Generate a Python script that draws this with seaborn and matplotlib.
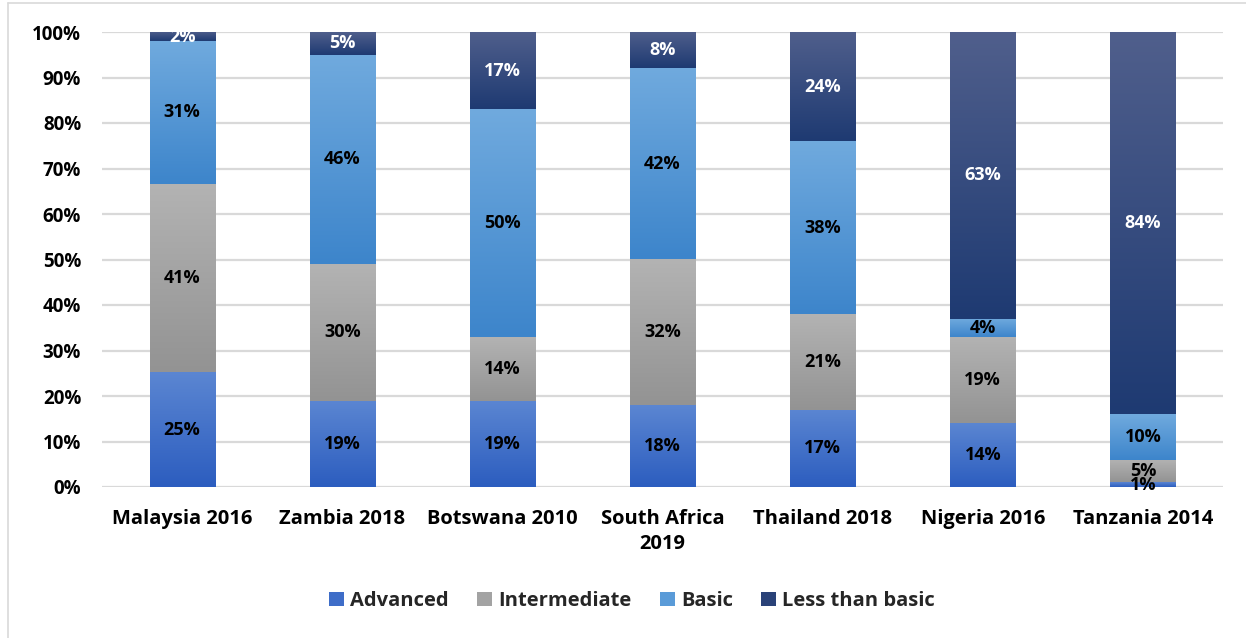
import numpy as np
import pandas as pd
import matplotlib
matplotlib.use("Agg")
import matplotlib.pyplot as plt
from matplotlib.colors import LinearSegmentedColormap
from matplotlib.patches import Patch
from matplotlib.lines import Line2D
import seaborn as sns

# Skill level shares by country survey (percent)
countries = ["Malaysia 2016", "Zambia 2018", "Botswana 2010", "South Africa\n2019",
             "Thailand 2018", "Nigeria 2016", "Tanzania 2014"]
levels = ["Advanced", "Intermediate", "Basic", "Less than basic"]
advanced = [25, 19, 19, 18, 17, 14, 1]
intermediate = [41, 30, 14, 32, 21, 19, 5]
basic = [31, 46, 50, 42, 38, 4, 10]
less_than_basic = [2, 5, 17, 8, 24, 63, 84]

# Segment gradients (top colour, bottom colour) and legend swatch colours
grad_colors = {
    "Advanced": ("#5b86d2", "#2c5dbf"),
    "Intermediate": ("#b3b3b3", "#939393"),
    "Basic": ("#70aade", "#3d85cb"),
    "Less than basic": ("#505f8c", "#1e3a72"),
}
swatch = {"Advanced": "#3e6dc8", "Intermediate": "#a3a3a3",
          "Basic": "#5a9bd8", "Less than basic": "#2a4278"}
label_color = {"Advanced": "black", "Intermediate": "black",
               "Basic": "black", "Less than basic": "white"}

sns.set_theme(style="white")
plt.rcParams["font.family"] = ["Open Sans", "DejaVu Sans"]
plt.rcParams["font.weight"] = "bold"

values = pd.DataFrame({"Advanced": advanced, "Intermediate": intermediate,
                       "Basic": basic, "Less than basic": less_than_basic},
                      index=countries)
shares = values.div(values.sum(axis=1), axis=0) * 100
cum = shares.cumsum(axis=1)

fig = plt.figure(figsize=(12.46, 6.38), dpi=100)
ax = fig.add_axes([102 / 1246, 1 - 487 / 638, (1223 - 102) / 1246, (487 - 32) / 638])

# Draw cumulative bars from the top layer down so each layer shows its own segment
patches_by_level = {}
for lvl in reversed(levels):
    df = pd.DataFrame({"country": countries, "top": cum[lvl].values})
    n_before = len(ax.patches)
    sns.barplot(data=df, x="country", y="top", order=countries, color=swatch[lvl],
                width=0.406, ax=ax, zorder=2, linewidth=0)
    patches_by_level[lvl] = ax.patches[n_before:]

ax.set_xlim(-0.5, len(countries) - 0.5)
ax.set_ylim(0, 100)

# Replace flat fills with vertical gradients per segment
for i, lvl in enumerate(levels):
    top_c, bot_c = grad_colors[lvl]
    cmap = LinearSegmentedColormap.from_list(lvl, [bot_c, top_c])
    grad = np.linspace(0, 1, 256).reshape(-1, 1)
    for j, p in enumerate(patches_by_level[lvl]):
        p.set_facecolor("none")
        x0, w = p.get_x(), p.get_width()
        top = p.get_height()
        bottom = cum[levels[i - 1]].iloc[j] if i > 0 else 0.0
        ax.imshow(grad, cmap=cmap, origin="lower", aspect="auto",
                  extent=[x0, x0 + w, bottom, top], zorder=3, interpolation="bicubic")
        ax.text(x0 + w / 2, (bottom + top) / 2, f"{values[lvl].iloc[j]}%",
                ha="center", va="center", fontsize=13, fontweight="bold",
                color=label_color[lvl], zorder=5)

ax.set_xlim(-0.5, len(countries) - 0.5)
ax.set_ylim(0, 100)

# Axes styling
ax.set_yticks(np.arange(0, 101, 10))
ax.set_yticklabels([f"{t}%" for t in range(0, 101, 10)])
ax.yaxis.grid(True, color="#d9d9d9", linewidth=1.6, zorder=0)
ax.set_axisbelow(True)
for s in ax.spines.values():
    s.set_visible(False)
ax.tick_params(axis="both", length=0, labelsize=13.5, colors="black")
ax.tick_params(axis="y", pad=15)
ax.tick_params(axis="x", pad=16, labelsize=14.5)
for lab in ax.get_xticklabels() + ax.get_yticklabels():
    lab.set_fontweight("bold")
for lab in ax.get_xticklabels():
    lab.set_linespacing(1.3)
ax.set_xlabel("")
ax.set_ylabel("")

# Legend below the plot
handles = [Patch(facecolor=swatch[l], edgecolor="none", label=l) for l in levels]
fig.legend(handles=handles, loc="center", bbox_to_anchor=(632 / 1246, 1 - 601 / 638),
           ncol=4, frameon=False, handlelength=0.75, handleheight=0.75,
           handletextpad=0.3, columnspacing=1.4,
           prop={"weight": "bold", "size": 14.5})

# Chart frame (top and left edges)
fig.add_artist(Line2D([8 / 1246, 1], [1 - 3 / 638, 1 - 3 / 638], color="#d9d9d9",
                      linewidth=1.2, transform=fig.transFigure))
fig.add_artist(Line2D([8 / 1246, 8 / 1246], [0, 1 - 3 / 638], color="#d9d9d9",
                      linewidth=1.2, transform=fig.transFigure))

fig.savefig("out.png", dpi=100)
